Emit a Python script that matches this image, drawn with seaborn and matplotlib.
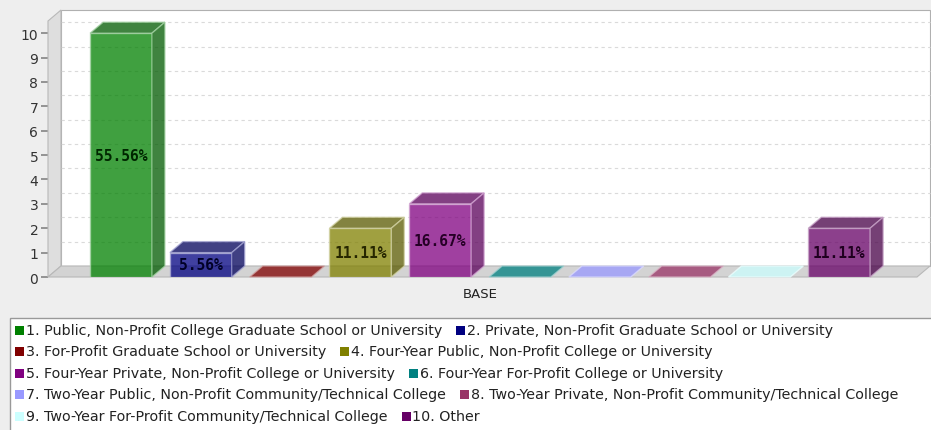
import matplotlib
matplotlib.use("Agg")
import matplotlib.pyplot as plt
import matplotlib.colors as mcolors
from matplotlib.patches import Polygon, Rectangle
import seaborn as sns

# data
categories = [
    "1. Public, Non-Profit College Graduate School or University",
    "2. Private, Non-Profit Graduate School or University",
    "3. For-Profit Graduate School or University",
    "4. Four-Year Public, Non-Profit College or University",
    "5. Four-Year Private, Non-Profit College or University",
    "6. Four-Year For-Profit College or University",
    "7. Two-Year Public, Non-Profit Community/Technical College",
    "8. Two-Year Private, Non-Profit Community/Technical College",
    "9. Two-Year For-Profit Community/Technical College",
    "10. Other",
]
counts = [10, 1, 0, 2, 3, 0, 0, 0, 0, 2]
series_colors = ["#008000", "#000080", "#800000", "#808000", "#800080",
                 "#008080", "#9999ff", "#993366", "#ccffff", "#660066"]
y_ticks = list(range(0, 11))
group_label = "BASE"
legend_rows = [(0, 1), (2, 3), (4, 5), (6, 7), (8, 9)]

W, H = 931, 431
sns.set_theme(style="white")
plt.rcParams['font.family'] = ['DejaVu Sans']

fig = plt.figure(figsize=(W / 100, H / 100), dpi=100, facecolor="#eeeeee")
# front plane of the 3d plot
ax = fig.add_axes([48 / W, (H - 278) / H, 869 / W, 256 / H])
ax.set_facecolor("none")

palette = dict(zip(categories, series_colors))
sns.barplot(x=categories, y=counts, hue=categories, palette=palette,
            order=categories, legend=False, width=0.775, saturation=1, ax=ax)

xl = -0.915
xr = xl + 869 / 79.8
ytop = 10.5
ax.set_xlim(xl, xr)
ax.set_ylim(0, ytop)
dx = 13 / 79.8   # depth in data units
dy = 11 / 24.4

# back wall, left wall and floor
ax.add_patch(Rectangle((xl + dx, dy), xr - xl, ytop, facecolor="white",
                       edgecolor="#b0b0b0", lw=0.8, zorder=0, clip_on=False))
ax.add_patch(Polygon([(xl, 0), (xl + dx, dy), (xl + dx, ytop + dy), (xl, ytop)],
                     facecolor="#dedede", edgecolor="#b8b8b8", lw=0.8, zorder=0.6, clip_on=False))
ax.add_patch(Polygon([(xl, 0), (xr, 0), (xr + dx, dy), (xl + dx, dy)],
                     facecolor="#d3d3d3", edgecolor="#b8b8b8", lw=0.8, zorder=0.6, clip_on=False))
for t in y_ticks[1:]:
    ax.plot([xl + dx, xr + dx], [t + dy, t + dy], color="#dadada", lw=0.8,
            ls=(0, (3, 3)), zorder=0.5, clip_on=False)

total = sum(counts)
for p, col, v in zip(ax.patches, series_colors, counts):
    x0, w, h = p.get_x(), p.get_width(), p.get_height()
    rgb = mcolors.to_rgb(col)
    dark = tuple(c * 0.7 for c in rgb)
    edge = tuple(1 - (1 - c) * 0.35 for c in rgb)
    p.set_alpha(0.75)
    p.set_edgecolor(edge)
    p.set_linewidth(1.0)
    p.set_zorder(3)
    top_col = dark if h > 0 else rgb
    ax.add_patch(Polygon([(x0, h), (x0 + w, h), (x0 + w + dx, h + dy), (x0 + dx, h + dy)],
                         facecolor=top_col, alpha=0.75, edgecolor=edge, lw=1.0,
                         zorder=3, clip_on=False))
    if h > 0:
        ax.add_patch(Polygon([(x0 + w, 0), (x0 + w + dx, dy), (x0 + w + dx, h + dy), (x0 + w, h)],
                             facecolor=dark, alpha=0.75, edgecolor=edge, lw=1.0,
                             zorder=3, clip_on=False))
        lab_col = tuple(c * 0.3 for c in rgb)
        ax.text(x0 + w / 2, h / 2, f"{v / total * 100:.2f}%", ha="center", va="center",
                fontsize=10.5, fontweight="bold", family="DejaVu Sans Mono",
                color=lab_col, zorder=5)

for s in ax.spines.values():
    s.set_visible(False)
ax.set_yticks(y_ticks)
ax.set_yticklabels([str(t) for t in y_ticks], fontsize=10, color="#333333")
ax.set_xticks([4.5])
ax.set_xticklabels([group_label], fontsize=9.5, color="#222222")
ax.tick_params(axis="y", length=5, color="#888888", pad=2, left=True)
ax.tick_params(axis="x", length=0, pad=7)
ax.set_xlabel("")
ax.set_ylabel("")

# legend box with flow layout
fig.add_artist(Rectangle((10 / W, -0.01), 0.995, (H - 319) / H + 0.01,
                         transform=fig.transFigure, facecolor="white",
                         edgecolor="#999999", lw=1.0))
renderer = fig.canvas.get_renderer()
for r, row in enumerate(legend_rows):
    yc = 331 + r * 21.5
    x = 15
    for i in row:
        fig.add_artist(Rectangle((x / W, (H - yc - 4.5) / H), 9 / W, 9 / H,
                                 transform=fig.transFigure, facecolor=series_colors[i],
                                 edgecolor="none"))
        t = fig.text((x + 11) / W, (H - yc) / H, categories[i], fontsize=10.25,
                     va="center", ha="left", color="#222222")
        bb = t.get_window_extent(renderer)
        x = bb.x1 + 14

fig.savefig("out.png", dpi=100, facecolor=fig.get_facecolor())
